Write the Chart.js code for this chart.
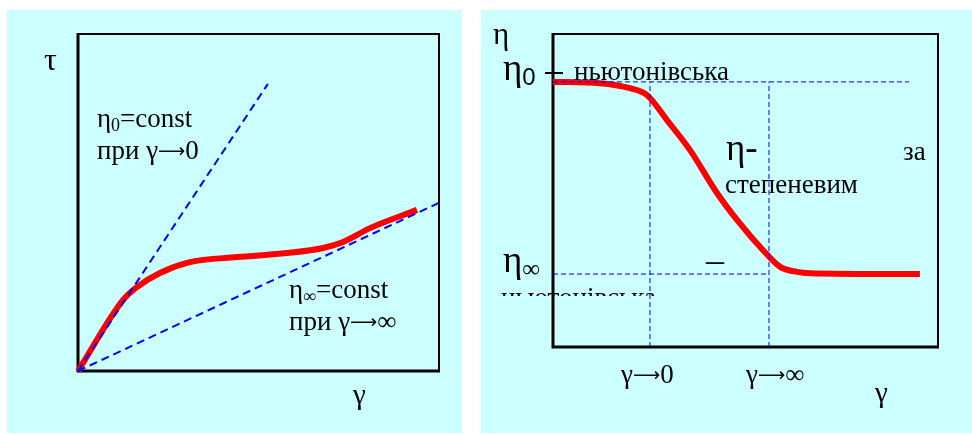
<!DOCTYPE html>
<html>
<head>
<meta charset="utf-8">
<script src="https://cdn.jsdelivr.net/npm/chart.js@4.4.0/dist/chart.umd.min.js"></script>
<style>
body { margin: 0; background: #fff; width: 972px; height: 434px; position: relative; overflow: hidden; }
.panel { position: absolute; top: 10px; height: 423px; background: #ccffff; }
#leftPanel { left: 7px; width: 455px; }
#rightPanel { left: 481px; width: 491px; }
canvas { display: block; }
</style>
</head>
<body>
<div class="panel" id="leftPanel"><canvas id="flowChart" width="455" height="423"></canvas></div>
<div class="panel" id="rightPanel"><canvas id="viscChart" width="491" height="423"></canvas></div>
<script>
// flow curve tau(gamma), both axes 0..100
const flowX = [0, 12.5, 16.3, 22.7, 31.0, 44.0, 57.9, 67.9, 73.4, 80.9, 93.9];
const flowY = [0, 21.1, 24.9, 29.1, 32.3, 33.8, 35.0, 36.5, 38.3, 42.4, 47.8];
const eta0LineX = [0, 52.6];
const eta0LineY = [0, 85.2];
const etaInfLineX = [0, 100];
const etaInfLineY = [0, 49.9];

// viscosity curve eta(gamma)
const viscX = [0, 12.2, 20, 24.4, 29.6, 35.6, 42.6, 47.8, 54.5, 59, 63.4, 66.8, 95.3];
const viscY = [84.7, 84.3, 82.7, 80.5, 72.5, 62.9, 49.2, 40.6, 31.0, 25.6, 24.0, 23.6, 23.3];
const gammaZero = 25.2, gammaInf = 56.1;
const etaZeroLevel = 84.7, etaInfLevel = 23.3, etaZeroLineEnd = 92.5;

const SERIF = '"Liberation Serif", "Times New Roman", serif';
const SANS = '"Liberation Sans", Arial, sans-serif';
const ARROW = '19px "DejaVu Sans", sans-serif';

function pts(xs, ys) { return xs.map((x, i) => ({ x: x, y: ys[i] })); }

const redLine = (data) => ({ data: data, borderColor: '#ff0000', borderWidth: 6, pointRadius: 0, cubicInterpolationMode: 'monotone', clip: false, borderCapStyle: 'butt' });
const blueDash = (data, w, dash) => ({ data: data, borderColor: '#0000ff', borderWidth: w, borderDash: dash, pointRadius: 0, tension: 0, clip: false });

const framePlugin = {
    id: 'frame',
    beforeDatasetsDraw(chart) {
        const { ctx, chartArea: a } = chart;
        ctx.save();
        ctx.strokeStyle = '#000';
        ctx.lineWidth = 2;
        ctx.strokeRect(a.left, a.top, a.right - a.left, a.bottom - a.top);
        ctx.lineWidth = 3;
        ctx.beginPath();
        ctx.moveTo(a.left, a.top - 1);
        ctx.lineTo(a.left, a.bottom);
        ctx.lineTo(a.right + 1, a.bottom);
        ctx.stroke();
        ctx.restore();
    }
};

const textPlugin = {
    id: 'texts',
    afterDraw(chart, args, opts) {
        const ctx = chart.ctx;
        ctx.save();
        ctx.fillStyle = '#000';
        ctx.textBaseline = 'alphabetic';
        (opts.ticks || []).forEach(t => {
            ctx.strokeStyle = '#000'; ctx.lineWidth = 2;
            ctx.beginPath(); ctx.moveTo(t[0], t[1]); ctx.lineTo(t[2], t[1]); ctx.stroke();
        });
        (opts.items || []).forEach(item => {
            ctx.save();
            if (item.clipBottom) { ctx.beginPath(); ctx.rect(0, 0, chart.width, item.clipBottom); ctx.clip(); }
            let x = item.x;
            item.parts.forEach(p => {
                ctx.font = p.f;
                ctx.fillText(p.t, x, item.y + (p.dy || 0));
                x += ctx.measureText(p.t).width;
            });
            ctx.restore();
        });
        ctx.restore();
    }
};

const hiddenScales = {
    x: { type: 'linear', min: 0, max: 100, display: false },
    y: { type: 'linear', min: 0, max: 100, display: false }
};

const F27 = '27px ' + SERIF;

new Chart(document.getElementById('flowChart'), {
    type: 'line',
    data: {
        datasets: [
            blueDash(pts(eta0LineX, eta0LineY), 2, [8, 5]),
            blueDash(pts(etaInfLineX, etaInfLineY), 2, [8, 5]),
            redLine(pts(flowX, flowY))
        ]
    },
    options: {
        responsive: false, animation: false,
        layout: { padding: { left: 71, top: 24, right: 23, bottom: 62 } },
        scales: hiddenScales,
        plugins: {
            legend: { display: false }, tooltip: { enabled: false },
            texts: {
                items: [
                    { x: 37, y: 60, parts: [{ t: 'τ', f: '32px ' + SERIF }] },
                    { x: 90, y: 117, parts: [{ t: 'η', f: F27 }, { t: '0', f: '18px ' + SERIF, dy: 4 }, { t: '=const', f: F27 }] },
                    { x: 90, y: 149, parts: [{ t: 'при γ', f: F27 }, { t: '⟶', f: ARROW, dy: -2 }, { t: '0', f: F27 }] },
                    { x: 282, y: 288, parts: [{ t: 'η', f: F27 }, { t: '∞', f: '18px ' + SERIF, dy: 4 }, { t: '=const', f: F27 }] },
                    { x: 282, y: 320, parts: [{ t: 'при γ', f: F27 }, { t: '⟶', f: ARROW, dy: -2 }, { t: '∞', f: F27 }] },
                    { x: 346, y: 394, parts: [{ t: 'γ', f: '29px ' + SERIF }] }
                ]
            }
        }
    },
    plugins: [framePlugin, textPlugin]
});

new Chart(document.getElementById('viscChart'), {
    type: 'line',
    data: {
        datasets: [
            blueDash(pts([0, etaZeroLineEnd], [etaZeroLevel, etaZeroLevel]), 1, [5, 3]),
            blueDash(pts([0, gammaInf], [etaInfLevel, etaInfLevel]), 1, [5, 3]),
            blueDash(pts([gammaZero, gammaZero], [0, etaZeroLevel]), 1, [5, 3]),
            blueDash(pts([gammaInf, gammaInf], [0, etaZeroLevel]), 1, [5, 3]),
            redLine(pts(viscX, viscY))
        ]
    },
    options: {
        responsive: false, animation: false,
        layout: { padding: { left: 72, top: 24, right: 34, bottom: 86 } },
        scales: hiddenScales,
        plugins: {
            legend: { display: false }, tooltip: { enabled: false },
            texts: {
                ticks: [[64, 63, 82]],
                items: [
                    { x: 12, y: 34, parts: [{ t: 'η', f: '31px ' + SERIF }] },
                    { x: 22, y: 70, parts: [{ t: 'η', f: '37px ' + SERIF }, { t: '0', f: '24px ' + SANS, dy: 5 }] },
                    { x: 93, y: 70, parts: [{ t: 'ньютонівська', f: F27 }] },
                    { x: 245, y: 150, parts: [{ t: 'η-', f: '37px ' + SERIF }] },
                    { x: 422, y: 150, parts: [{ t: 'за', f: F27 }] },
                    { x: 244, y: 183, parts: [{ t: 'степеневим', f: F27 }] },
                    { x: 225, y: 262, parts: [{ t: '–', f: '36px ' + SERIF }] },
                    { x: 22, y: 262, parts: [{ t: 'η', f: '37px ' + SERIF }, { t: '∞', f: '25px ' + SERIF, dy: 5 }] },
                    { x: 20, y: 296, clipBottom: 286, parts: [{ t: 'ньютонівська', f: F27 }] },
                    { x: 140, y: 373, parts: [{ t: 'γ', f: F27 }, { t: '⟶', f: ARROW, dy: -2 }, { t: '0', f: F27 }] },
                    { x: 265, y: 373, parts: [{ t: 'γ', f: F27 }, { t: '⟶', f: ARROW, dy: -2 }, { t: '∞', f: F27 }] },
                    { x: 394, y: 392, parts: [{ t: 'γ', f: '29px ' + SERIF }] }
                ]
            }
        }
    },
    plugins: [framePlugin, textPlugin]
});
</script>
</body>
</html>
